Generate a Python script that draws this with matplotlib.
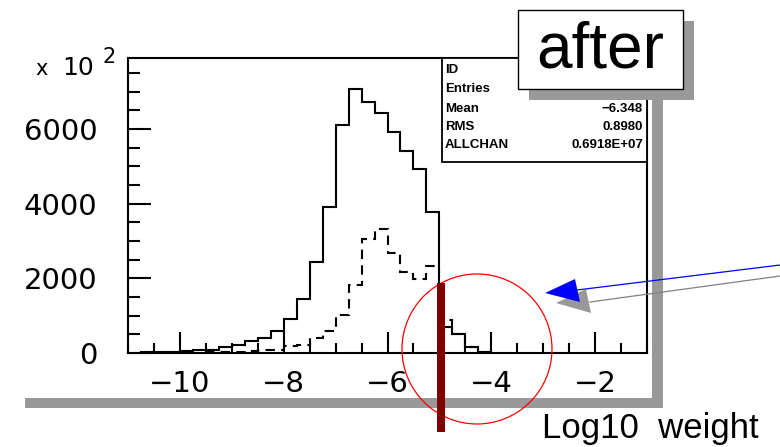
import numpy as np
import matplotlib
matplotlib.use("Agg")
import matplotlib.pyplot as plt
from matplotlib.patches import Rectangle, Circle, Polygon
from matplotlib.ticker import MultipleLocator, FixedLocator

# ---------------- data (counts in units of 10^2) ----------------
solid_first_edge = -10.75
solid_values = [30, 35, 40, 45, 88, 88, 150, 222, 311, 390, 596, 915, 1450,
                2436, 3908, 6111, 7075, 6718, 6425, 5916, 5399, 4917, 3780,
                705, 500, 170, 27]
dashed_first_edge = -9.5
dashed_values = [15, 25, 40, 55, 80, 80, 178, 223, 410, 600, 1015, 1829, 3055,
                 3325, 2690, 2180, 1970, 2330, 890, 500, 150, 25]
bin_width = 0.25

x_ticks = [-10, -8, -6, -4, -2]
x_ticklabels = ["\u221210", "\u22128", "\u22126", "\u22124", "\u22122"]
y_ticks = [0, 2000, 4000, 6000]
y_ticklabels = ["0", "2000", "4000", "6000"]

stat_names = ["ID", "Entries", "Mean", "RMS", "ALLCHAN"]
stat_values = ["", "", "\u22126.348", "0.8980", "0.6918E+07"]

title_text = "after"
xlabel_text = "Log10  weight"

# ---------------- figure ----------------
W, H = 780, 447
fig = plt.figure(figsize=(W / 100, H / 100), dpi=100)
fig.patch.set_facecolor("white")

L, R, T, B = 128, 647, 58, 353
ax = fig.add_axes([L / W, 1 - B / H, (R - L) / W, (B - T) / H])

solid_edges = solid_first_edge + bin_width * np.arange(len(solid_values) + 1)
dashed_edges = dashed_first_edge + bin_width * np.arange(len(dashed_values) + 1)
ax.stairs(solid_values, solid_edges, color="black", lw=1.5, baseline=0)
ax.stairs(dashed_values, dashed_edges, color="black", lw=1.5, baseline=0,
          linestyle=(0, (4.5, 3.0)))

ax.set_xlim(-11, -1)
ax.set_ylim(0, 7900)
for s in ax.spines.values():
    s.set_linewidth(1.5)

ax.xaxis.set_major_locator(FixedLocator(x_ticks))
ax.set_xticklabels(x_ticklabels)
ax.xaxis.set_minor_locator(MultipleLocator(0.5))
ax.yaxis.set_major_locator(FixedLocator(y_ticks))
ax.set_yticklabels(y_ticklabels)
ax.yaxis.set_minor_locator(MultipleLocator(500))

ax.tick_params(axis="x", which="major", direction="in", length=15, width=1.5,
               pad=12, labelsize=21, top=False)
ax.tick_params(axis="x", which="minor", direction="in", length=7.5, width=1.5,
               top=False)
ax.tick_params(axis="y", which="major", direction="in", length=16.5, width=1.5,
               pad=22, labelsize=21, right=False)
ax.tick_params(axis="y", which="minor", direction="in", length=8.5, width=1.5,
               right=False)
for lab in ax.get_xticklabels() + ax.get_yticklabels():
    lab.set_fontfamily("DejaVu Sans")

# ---------------- overlay in pixel coordinates ----------------
ov = fig.add_axes([0, 0, 1, 1], zorder=10)
ov.set_xlim(0, W)
ov.set_ylim(H, 0)
ov.axis("off")
ov.patch.set_alpha(0)

gray = "#999999"
# drop shadow of the plot frame
ov.add_patch(Rectangle((25, 398), 638, 10, color=gray, lw=0))
ov.add_patch(Rectangle((652, 22), 11, 386, color=gray, lw=0))

# exponent label
ov.text(35, 75, "x", fontsize=15, family="DejaVu Sans", ha="left", va="baseline")
ov.text(62, 75, "10", fontsize=18, family="DejaVu Sans", ha="left", va="baseline")
ov.text(103, 63, "2", fontsize=15, family="DejaVu Sans", ha="left", va="baseline")

# statistics box
ov.add_patch(Rectangle((442, T), R - 442, 104, facecolor="white",
                       edgecolor="black", lw=1.3))
row_y = [70, 89, 109, 127, 145]
for name, val, yy in zip(stat_names, stat_values, row_y):
    ov.text(445, yy, name, fontsize=9.5, family="Liberation Sans",
            fontweight="bold", ha="left", va="center")
    if val:
        ov.text(643, yy, val, fontsize=9.5, family="Liberation Sans",
                fontweight="bold", ha="right", va="center")

# "after" label box with shadow
ov.add_patch(Rectangle((529, 21), 165, 79, color=gray, lw=0))
ov.add_patch(Rectangle((518, 10), 165, 79, facecolor="white",
                       edgecolor="black", lw=1.0))
ov.text(600, 51, title_text, fontsize=46, family="Liberation Sans",
        ha="center", va="center")

# red circle and dark red cut bar
ov.add_patch(Circle((477, 349), 75, fill=False, edgecolor="red", lw=0.9))
ov.add_patch(Rectangle((437, 283), 8, 149, color="#800000", lw=0))

# arrows (gray shadow first, then blue)
ov.plot([780, 590], [276, 302], color="#808080", lw=0.9)
ov.add_patch(Polygon([(556, 303), (586, 289), (591, 313)], closed=True,
                     color="#999999", lw=0))
ov.plot([780, 577], [265, 290], color="blue", lw=0.9)
ov.add_patch(Polygon([(545, 293), (575, 279), (580, 302)], closed=True,
                     color="blue", lw=0))

# x-axis label
ov.text(542, 438, xlabel_text, fontsize=25, family="Liberation Sans",
        ha="left", va="baseline")

fig.savefig("out.png", dpi=100)
